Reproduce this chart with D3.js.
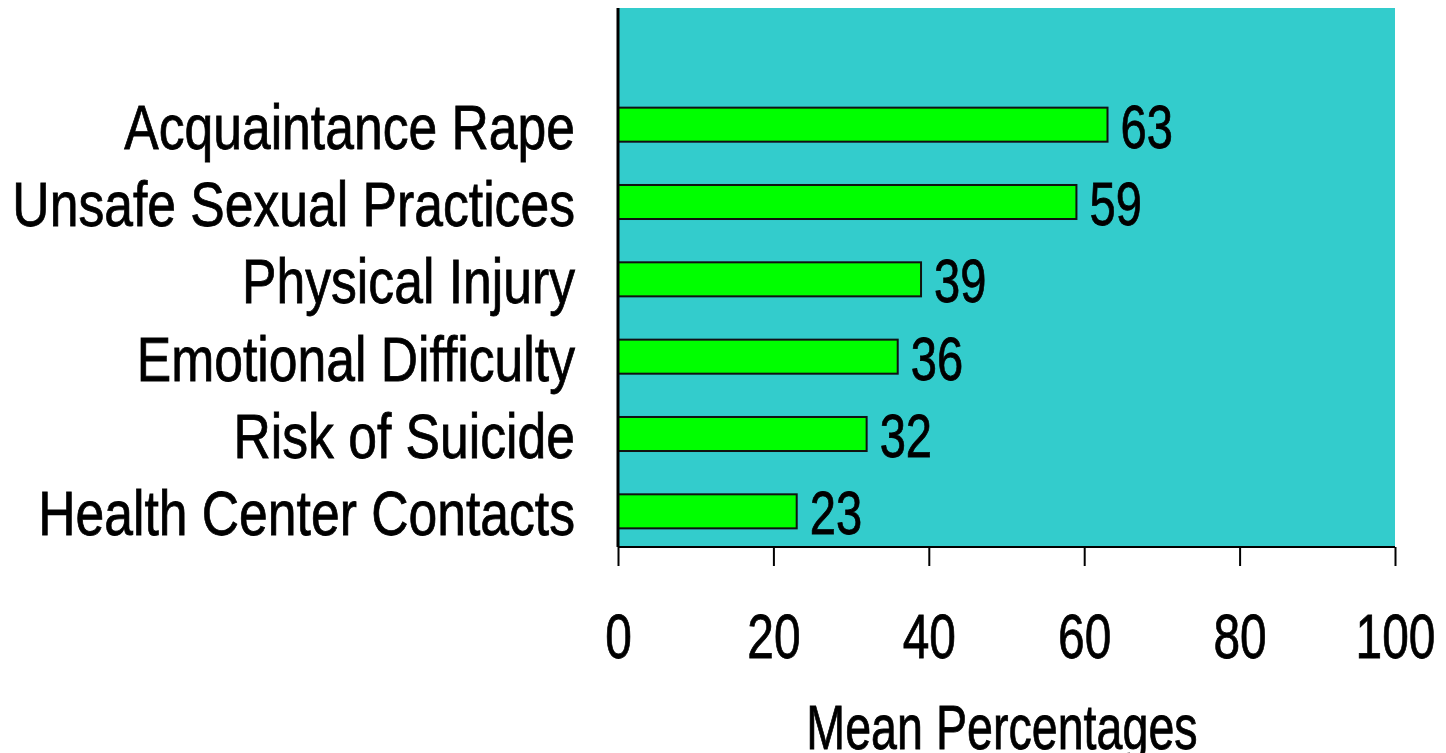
<!DOCTYPE html>
<html lang="en">
<head>
  <meta charset="UTF-8">
  <title>Mean Percentages</title>
  <style>
    body {
      margin: 0;
      background: #fff;
    }
    svg {
      display: block;
      font-family: "Liberation Sans", Arial, sans-serif;
    }
  </style>
</head>
<body>
  <svg width="1446" height="753"></svg>
  <script src="https://d3js.org/d3.v7.min.js"></script>
  <script>
    const categories = [
      "Acquaintance Rape",
      "Unsafe Sexual Practices",
      "Physical Injury",
      "Emotional Difficulty",
      "Risk of Suicide",
      "Health Center Contacts"
    ];
    const values = [63, 59, 39, 36, 32, 23];
    const tickValues = [0, 20, 40, 60, 80, 100];

    // the reference uses a condensed face, so squeeze Liberation Sans horizontally
    const narrowCat = 0.82;
    const narrowNum = 0.76;
    const narrowTitle = 0.74;

    const svg = d3.select("svg");
    const plot = { left: 618, right: 1395, top: 8, bottom: 547 };

    const x = d3.scaleLinear().domain([0, 100]).range([plot.left, plot.right]);
    const y = d3.scaleBand()
      .domain(categories)
      .range([86, 550])
      .paddingInner(0.56)
      .paddingOuter(0.28);

    svg.append("rect")
      .attr("x", plot.left)
      .attr("y", plot.top)
      .attr("width", plot.right - plot.left)
      .attr("height", plot.bottom - plot.top)
      .attr("fill", "#33cccc");

    svg.selectAll("rect.bar")
      .data(categories)
      .join("rect")
      .attr("class", "bar")
      .attr("x", x(0))
      .attr("y", d => y(d))
      .attr("width", (d, i) => x(values[i]) - x(0))
      .attr("height", y.bandwidth())
      .attr("fill", "#00ff00")
      .attr("stroke", "#111")
      .attr("stroke-width", 2);

    svg.selectAll("text.val")
      .data(categories)
      .join("text")
      .attr("class", "val")
      .attr("transform", (d, i) =>
        `translate(${x(values[i]) + 13},${y(d) + y.bandwidth() / 2 + 23}) scale(${narrowNum},1)`)
      .attr("font-size", 62)
      .attr("stroke", "#000")
      .attr("stroke-width", 0.8)
      .text((d, i) => values[i]);

    svg.selectAll("text.cat")
      .data(categories)
      .join("text")
      .attr("class", "cat")
      .attr("transform", d => `translate(575,${y(d) + y.bandwidth() / 2 + 24}) scale(${narrowCat},1)`)
      .attr("text-anchor", "end")
      .attr("font-size", 63)
      .attr("stroke", "#000")
      .attr("stroke-width", 0.8)
      .text(d => d);

    const xAxis = d3.axisBottom(x)
      .tickValues(tickValues)
      .tickSize(19)
      .tickPadding(47)
      .tickFormat(d3.format("d"));

    const gx = svg.append("g")
      .attr("transform", `translate(0,${plot.bottom})`)
      .call(xAxis)
      .attr("font-family", null)
      .attr("font-size", null);
    gx.select(".domain")
      .attr("stroke", "#000")
      .attr("stroke-width", 2)
      .attr("d", `M${plot.left},0H${plot.right}`);
    gx.selectAll(".tick line").attr("stroke", "#000").attr("stroke-width", 2);
    gx.selectAll(".tick text")
      .attr("fill", "#000")
      .attr("stroke", "#000")
      .attr("stroke-width", 0.8)
      .attr("font-size", 63)
      .attr("dy", "0.71em")
      .attr("transform", `scale(${narrowNum},1)`);

    svg.append("line")
      .attr("x1", plot.left)
      .attr("x2", plot.left)
      .attr("y1", plot.top)
      .attr("y2", plot.bottom)
      .attr("stroke", "#000")
      .attr("stroke-width", 3);

    svg.append("text")
      .attr("transform", `translate(1002,749) scale(${narrowTitle},1)`)
      .attr("text-anchor", "middle")
      .attr("font-size", 63)
      .attr("stroke", "#000")
      .attr("stroke-width", 0.8)
      .text("Mean Percentages");
  </script>
</body>
</html>
